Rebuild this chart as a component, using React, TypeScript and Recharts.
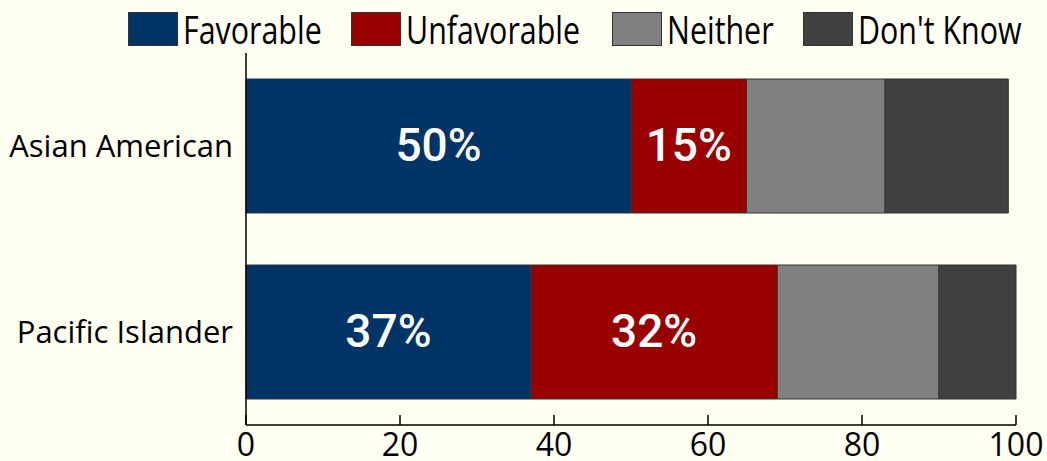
import { BarChart, Bar, XAxis, YAxis, LabelList } from "recharts";

const categories = ["Asian American", "Pacific Islander"];
const favorable = [50, 37];
const unfavorable = [15, 32];
const neither = [18, 21];
const dontKnow = [16, 10];
const xTicks = [0, 20, 40, 60, 80, 100];

const SERIES = [
  { key: "favorable", name: "Favorable", color: "#003366", label: true, left: 128 },
  { key: "unfavorable", name: "Unfavorable", color: "#990000", label: true, left: 351 },
  { key: "neither", name: "Neither", color: "#808080", label: false, left: 612 },
  { key: "dontKnow", name: "Don't Know", color: "#404040", label: false, left: 803 },
];

const data = categories.map((name, i) => ({
  name,
  favorable: favorable[i],
  unfavorable: unfavorable[i],
  neither: neither[i],
  dontKnow: dontKnow[i],
}));

const BG = "#FFFFF2";
const SANS = "'Open Sans', 'Noto Sans', sans-serif";

const XTick = ({ x, y, payload }: any) => (
  <g>
    <line x1={x} y1={y - 10} x2={x} y2={y} stroke="#000" strokeWidth={1.5} />
    <text x={x} y={y + 31} textAnchor="middle" fontSize={32} fontFamily={SANS} fill="#000">
      {payload.value}
    </text>
  </g>
);

const PctLabel = ({ x, y, width, height, value }: any) => (
  <text
    x={x + width / 2}
    y={y + height / 2 + 15}
    textAnchor="middle"
    fill="#fff"
    fontSize={46}
    fontWeight={500}
    fontFamily="Roboto, 'Open Sans', sans-serif"
  >
    {`${value}%`}
  </text>
);

export default function App() {
  return (
    <div style={{ position: "absolute", left: 0, top: 0, width: 1047, height: 461, background: BG, overflow: "hidden" }}>
      {SERIES.map((s) => (
        <div
          key={s.key}
          style={{ position: "absolute", left: s.left, top: 12, height: 34, display: "flex", alignItems: "center", whiteSpace: "nowrap" }}
        >
          <span style={{ width: 48, height: 32, background: s.color, border: "1px solid #333", display: "inline-block" }} />
          <span
            style={{
              marginLeft: 5,
              fontFamily: SANS,
              fontSize: 38,
              lineHeight: "34px",
              color: "#000",
              display: "inline-block",
              transform: "scaleX(0.8)",
              transformOrigin: "left center",
            }}
          >
            {s.name}
          </span>
        </div>
      ))}
      <BarChart
        width={1047}
        height={461}
        data={data}
        layout="vertical"
        margin={{ top: 53, right: 31, left: 0, bottom: 0 }}
        barSize={134}
      >
        <XAxis
          type="number"
          domain={[0, 100]}
          ticks={xTicks}
          interval={0}
          height={36}
          tickSize={0}
          tickMargin={0}
          axisLine={{ stroke: "#000", strokeWidth: 1.5 }}
          tickLine={false}
          tick={<XTick />}
        />
        <YAxis
          type="category"
          dataKey="name"
          width={246}
          tickSize={0}
          tickMargin={13}
          tickLine={false}
          axisLine={{ stroke: "#000", strokeWidth: 1.5 }}
          tick={{ fontSize: 31, fill: "#000", fontFamily: SANS }}
        />
        {SERIES.map((s) => (
          <Bar
            key={s.key}
            dataKey={s.key}
            name={s.name}
            stackId="a"
            fill={s.color}
            stroke="#333"
            strokeWidth={1}
            isAnimationActive={false}
          >
            {s.label && <LabelList dataKey={s.key} content={<PctLabel />} />}
          </Bar>
        ))}
      </BarChart>
    </div>
  );
}
